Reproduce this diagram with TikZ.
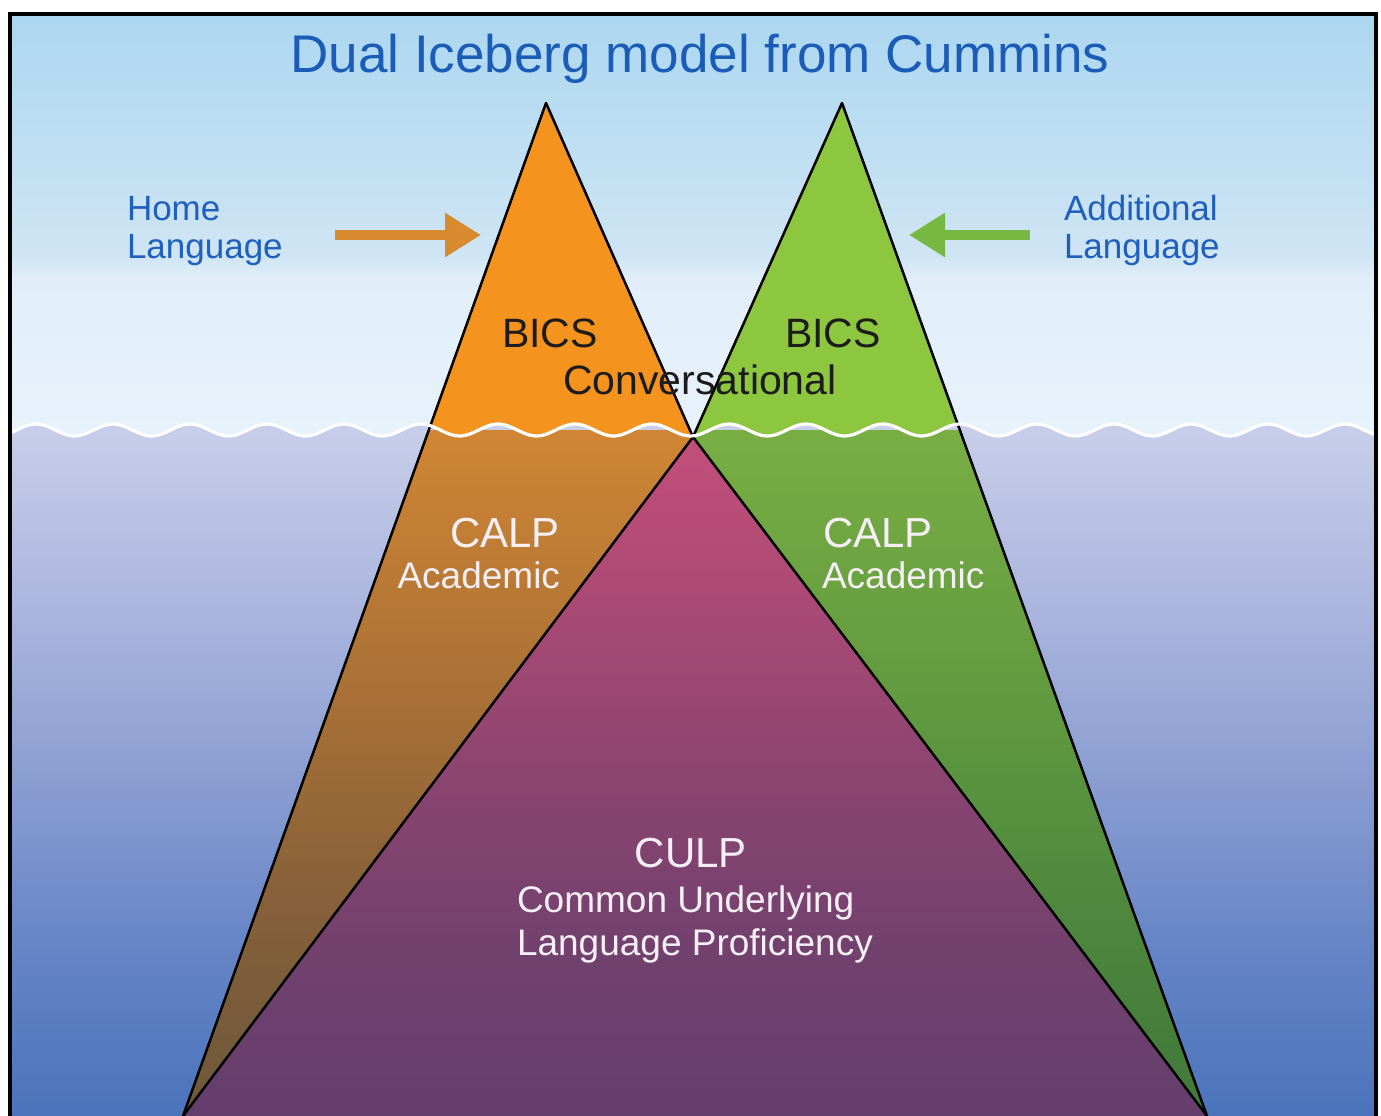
\documentclass[tikz,border=0pt]{standalone}
\usepackage{fontspec}
\setmainfont{Liberation Sans}
\usetikzlibrary{arrows.meta}

\definecolor{skyA}{HTML}{ACD7F0}
\definecolor{skyB}{HTML}{CFE5F4}
\definecolor{skyB2}{HTML}{E1EEF9}
\definecolor{skyC}{HTML}{E8F2FB}
\definecolor{wA}{HTML}{C9CEE9}
\definecolor{wB}{HTML}{ACB7DF}
\definecolor{wC}{HTML}{8A9DD1}
\definecolor{wD}{HTML}{6584C6}
\definecolor{wE}{HTML}{4B74BC}
\definecolor{orBright}{HTML}{F5931F}
\definecolor{grBright}{HTML}{8DC63F}
\definecolor{oA}{HTML}{D08634}
\definecolor{oB}{HTML}{A87036}
\definecolor{oC}{HTML}{86603A}
\definecolor{oD}{HTML}{6D583B}
\definecolor{gA}{HTML}{79AE43}
\definecolor{gB}{HTML}{619A40}
\definecolor{gC}{HTML}{4F883D}
\definecolor{gD}{HTML}{3F783A}
\definecolor{pA}{HTML}{C44F7A}
\definecolor{pB}{HTML}{AA4A74}
\definecolor{pC}{HTML}{8B4470}
\definecolor{pD}{HTML}{72416E}
\definecolor{pE}{HTML}{643E6D}
\definecolor{titleBlue}{HTML}{1B5CB8}
\definecolor{labelBlue}{HTML}{1F5FBE}
\definecolor{arrOrange}{HTML}{D88A2E}
\definecolor{arrGreen}{HTML}{77B843}
\definecolor{darkText}{HTML}{1C1C1C}
\definecolor{lightText}{HTML}{F6F0F6}

\pgfdeclareverticalshading{skyshade}{100bp}{color(0bp)=(skyC); color(25bp)=(skyC); color(44bp)=(skyB2); color(46.5bp)=(skyB); color(75bp)=(skyA); color(100bp)=(skyA)}
\pgfdeclareverticalshading{watershade}{100bp}{color(0bp)=(wE); color(25bp)=(wE); color(37bp)=(wD); color(49.3bp)=(wC); color(62.3bp)=(wB); color(75bp)=(wA); color(100bp)=(wA)}
\pgfdeclareverticalshading{orangedeep}{100bp}{color(0bp)=(oD); color(25bp)=(oD); color(40.7bp)=(oC); color(55.3bp)=(oB); color(75bp)=(oA); color(100bp)=(oA)}
\pgfdeclareverticalshading{greendeep}{100bp}{color(0bp)=(gD); color(25bp)=(gD); color(40.7bp)=(gC); color(55.3bp)=(gB); color(75bp)=(gA); color(100bp)=(gA)}
\pgfdeclareverticalshading{purpledeep}{100bp}{color(0bp)=(pE); color(25bp)=(pE); color(37.1bp)=(pD); color(49.5bp)=(pC); color(62.6bp)=(pB); color(75bp)=(pA); color(100bp)=(pA)}

\newcommand\wavepath[2]{plot[domain=#1:#2,samples=360] (\x,{430-6*cos(4.6753*(\x-36))})}

\tikzset{
  txt/.style={inner sep=0pt, outer sep=0pt},
  titletxt/.style={txt, text=titleBlue, font=\fontsize{53}{60}\selectfont},
  sidetxt/.style={txt, text=labelBlue, font=\fontsize{35}{40}\selectfont},
  bigdark/.style={txt, text=darkText, font=\fontsize{41}{46}\selectfont},
  bigwhite/.style={txt, text=lightText, font=\fontsize{42}{46}\selectfont},
  smallwhite/.style={txt, text=lightText, font=\fontsize{37}{42}\selectfont},
  edge/.style={black, line width=2.5pt, line join=round},
  fatarrow/.style={line width=10pt, -{Triangle[length=36pt,width=42pt]}},
}

\begin{document}
\begin{tikzpicture}[x=1pt,y=-1pt]
\useasboundingbox (0,0) rectangle (1381,1116);
\fill[white] (0,0) rectangle (1381,1116);

% key points
\coordinate (oTop) at (546,103);
\coordinate (gTop) at (842,103);
\coordinate (pTop) at (693,437);
\coordinate (bL) at (183,1116);
\coordinate (bR) at (1207,1116);

% sky
\fill[shading=skyshade] (10,14) rectangle (1376,440);

% bright triangles (above water)
\fill[orBright] (oTop) -- (pTop) -- (bL) -- cycle;
\fill[grBright] (gTop) -- (bR) -- (pTop) -- cycle;

% underwater part
\begin{scope}
  \clip \wavepath{0}{1381} -- (1381,1116) -- (0,1116) -- cycle;
  \fill[shading=watershade] (10,424) rectangle (1376,1116);
  \begin{scope}
    \clip (oTop) -- (pTop) -- (bL) -- cycle;
    \fill[shading=orangedeep] (0,430) rectangle (1381,1116);
  \end{scope}
  \begin{scope}
    \clip (gTop) -- (bR) -- (pTop) -- cycle;
    \fill[shading=greendeep] (0,430) rectangle (1381,1116);
  \end{scope}
  \begin{scope}
    \clip (pTop) -- (bL) -- (bR) -- cycle;
    \fill[shading=purpledeep] (0,430) rectangle (1381,1116);
  \end{scope}
\end{scope}

% outlines
\draw[edge] (pTop) -- (oTop) -- (bL);
\draw[edge] (pTop) -- (gTop) -- (bR);
\draw[edge] (bL) -- (pTop) -- (bR);

% waterline
\draw[white, line width=3.2pt] \wavepath{11}{1375};

% frame
\draw[black, line width=4pt] (10,1120) -- (10,14) -- (1376,14) -- (1376,1120);

% title
\node[titletxt, anchor=base] (title) at (700,73) {Dual Iceberg model from Cummins};

% side labels
\node[sidetxt, anchor=base west] (home1) at (127,220) {Home};
\node[sidetxt, anchor=base west] (home2) at (127,258) {Language};
\node[sidetxt, anchor=base west] (add1) at (1064,220) {Additional};
\node[sidetxt, anchor=base west] (add2) at (1064,258) {Language};

% arrows
\coordinate (hArrS) at (335,235);
\coordinate (hArrE) at (481,235);
\coordinate (aArrS) at (1030,235);
\coordinate (aArrE) at (909,235);
\draw[fatarrow, arrOrange] (hArrS) -- (hArrE);
\draw[fatarrow, arrGreen] (aArrS) -- (aArrE);

% BICS
\node[bigdark, anchor=base] (bicsL) at (550,347) {BICS};
\node[bigdark, anchor=base] (bicsR) at (833,347) {BICS};
\node[bigdark, anchor=base] (conv) at (700,394) {Conversational};

% CALP
\node[bigwhite, anchor=base east] (calpL) at (560,547) {CALP};
\node[smallwhite, anchor=base east] (acadL) at (560,588) {Academic};
\node[bigwhite, anchor=base west] (calpR) at (823,547) {CALP};
\node[smallwhite, anchor=base west] (acadR) at (822,588) {Academic};

% CULP
\node[bigwhite, anchor=base] (culp) at (691,867) {CULP};
\node[smallwhite, anchor=base west] (culp1) at (517,912) {Common Underlying};
\node[smallwhite, anchor=base west] (culp2) at (517,955) {Language Proficiency};
\end{tikzpicture}
\end{document}
